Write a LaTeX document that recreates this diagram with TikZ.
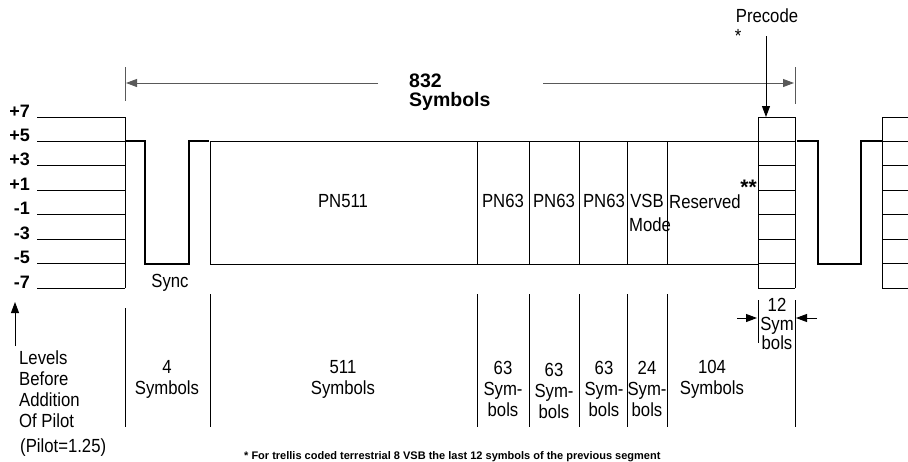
\documentclass[tikz,border=0pt]{standalone}
\usepackage{fontspec}
\setmainfont{Liberation Sans}
\newfontfamily\condfont[FakeStretch=0.88]{Liberation Sans}
\usetikzlibrary{arrows.meta}
\begin{document}
\begin{tikzpicture}[x=1pt,y=-1pt,
  thin/.style={line width=0.9pt,black},
  wave/.style={line width=1.9pt,black,line join=miter},
  dim/.style={line width=0.9pt,black!65},
  tip/.style={-{Triangle[length=11pt,width=8pt]}},
  lbl/.style={font=\condfont\fontsize{19}{21}\selectfont,align=center,inner sep=0pt},
  lvl/.style={font=\bfseries\fontsize{18}{20}\selectfont,anchor=base east,inner sep=0pt},
  txt/.style={font=\condfont\fontsize{19}{21}\selectfont,inner sep=0pt}]
\useasboundingbox (0,0) rectangle (908,461);

% level lines (left and right)
\foreach \i/\y/\t in {0/117/+7,1/141.4/+5,2/165.9/+3,3/190.3/+1,4/214.7/-1,5/239.1/-3,6/263.6/-5,7/288/-7}{
  \coordinate (LA\i) at (37,\y);
  \coordinate (LB\i) at (125,\y);
  \draw[thin] (LA\i) -- (LB\i);
  \node[lvl] (lv\i) at (30,\y) {\t};
  \coordinate (RA\i) at (882,\y);
  \coordinate (RB\i) at (909,\y);
  \draw[thin] (RA\i) -- (RB\i);
  \coordinate (PA\i) at (758,\y);
  \coordinate (PB\i) at (795,\y);
  \draw[thin] (PA\i) -- (PB\i);
}
\draw[thin] (LB0) -- (LB7);
\draw[thin] (RA0) -- (RA7);
\draw[thin] (PA0) -- (PA7);
\draw[thin] (PB0) -- (PB7);

% sync waveforms
\coordinate (w0) at (125,141.4);
\coordinate (w1) at (145,141.4);
\coordinate (w2) at (145,263.6);
\coordinate (w3) at (189,263.6);
\coordinate (w4) at (189,141.4);
\coordinate (w5) at (209,141.4);
\draw[wave] (w0) -- (w1) -- (w2) -- (w3) -- (w4) -- (w5);
\coordinate (v0) at (797,141.4);
\coordinate (v1) at (818,141.4);
\coordinate (v2) at (818,263.6);
\coordinate (v3) at (861,263.6);
\coordinate (v4) at (861,141.4);
\coordinate (v5) at (882,141.4);
\draw[wave] (v0) -- (v1) -- (v2) -- (v3) -- (v4) -- (v5);

% main data box
\coordinate (bx0) at (210,141.4);
\coordinate (bx1) at (758,264.5);
\draw[thin] (bx0) rectangle (bx1);
\foreach \n/\x in {a/477,b/529,c/579,d/627,e/667}{
  \coordinate (dt\n) at (\x,141.4);
  \coordinate (db\n) at (\x,264.5);
  \draw[thin] (dt\n) -- (db\n);
  \coordinate (lt\n) at (\x,294);
  \coordinate (lb\n) at (\x,427);
  \draw[thin] (lt\n) -- (lb\n);
}
\coordinate (ltS) at (210,294);
\coordinate (lbS) at (210,427);
\draw[thin] (ltS) -- (lbS);
\coordinate (ltL) at (125,308);
\coordinate (lbL) at (125,427);
\draw[thin] (ltL) -- (lbL);
\coordinate (ltP) at (758,300);
\coordinate (lbP) at (758,343);
\draw[thin] (ltP) -- (lbP);
\coordinate (ltQ) at (795,300);
\coordinate (lbQ) at (795,427);
\draw[thin] (ltQ) -- (lbQ);

% texts inside
\node[txt] (pn511) at (343,201) {PN511};
\node[txt] (pn63a) at (503,201) {PN63};
\node[txt] (pn63b) at (554,201) {PN63};
\node[txt] (pn63c) at (604,201) {PN63};
\node[txt] (vsb) at (647,201) {VSB};
\node[txt] (mode) at (650,225) {Mode};
\node[txt,anchor=west] (res) at (669,202) {Reserved};
\node[inner sep=0pt,anchor=base east,font=\bfseries\fontsize{21}{22}\selectfont] (stars) at (757,194) {**};
\node[txt] (sync) at (170,283) {Sync};

% lower labels
\node[lbl] (s4) at (167,379) {4\\Symbols};
\node[lbl] (s511) at (343,379) {511\\Symbols};
\node[lbl] (s63a) at (503,389) {63\\Sym-\\bols};
\node[lbl] (s63b) at (554,391) {63\\Sym-\\bols};
\node[lbl] (s63c) at (604,389) {63\\Sym-\\bols};
\node[lbl] (s24) at (647,389) {24\\Sym-\\bols};
\node[lbl] (s104) at (712,379) {104\\Symbols};
\node[lbl,font=\condfont\fontsize{19}{19}\selectfont] (s12) at (777,324) {12\\Sym\\bols};

% 12 symbols arrows
\coordinate (a12l0) at (737,318);
\coordinate (a12l1) at (757,318);
\coordinate (a12r0) at (817,318);
\coordinate (a12r1) at (796,318);
\draw[thin,tip] (a12l0) -- (a12l1);
\draw[thin,tip] (a12r0) -- (a12r1);

% levels note
\node[lbl,align=left,anchor=west] (levels) at (19,389) {Levels\\Before\\Addition\\Of Pilot};
\node[txt,anchor=west] (pilot) at (20,448) {(Pilot=1.25)};
\coordinate (up0) at (15,346);
\coordinate (up1) at (15,302);
\draw[thin,tip] (up0) -- (up1);

% top dimension
\coordinate (tk0a) at (125,67);
\coordinate (tk0b) at (125,101);
\coordinate (tk1a) at (795,67);
\coordinate (tk1b) at (795,104);
\draw[dim] (tk0a) -- (tk0b);
\draw[dim] (tk1a) -- (tk1b);
\node[inner sep=0pt,align=left,anchor=west,font=\bfseries\fontsize{19.5}{19}\selectfont] (n832) at (409,92) {832\\Symbols};
\coordinate (dl) at (378,83);
\coordinate (dr) at (543,83);
\coordinate (dL) at (126,83);
\coordinate (dR) at (794,83);
\draw[dim,tip] (dl) -- (dL);
\draw[dim,tip] (dr) -- (dR);

% precode
\node[txt] (prec) at (767,16) {Precode};
\node[txt] (pstar) at (738,36) {*};
\coordinate (pc0) at (766,36);
\coordinate (pc1) at (766,117);
\draw[thin,tip] (pc0) -- (pc1);

% footnote
\node[inner sep=0pt,anchor=base west,font=\bfseries\fontsize{11}{12}\selectfont] (foot) at (244,459) {* For trellis coded terrestrial 8 VSB the last 12 symbols of the previous segment};
\end{tikzpicture}
\end{document}
